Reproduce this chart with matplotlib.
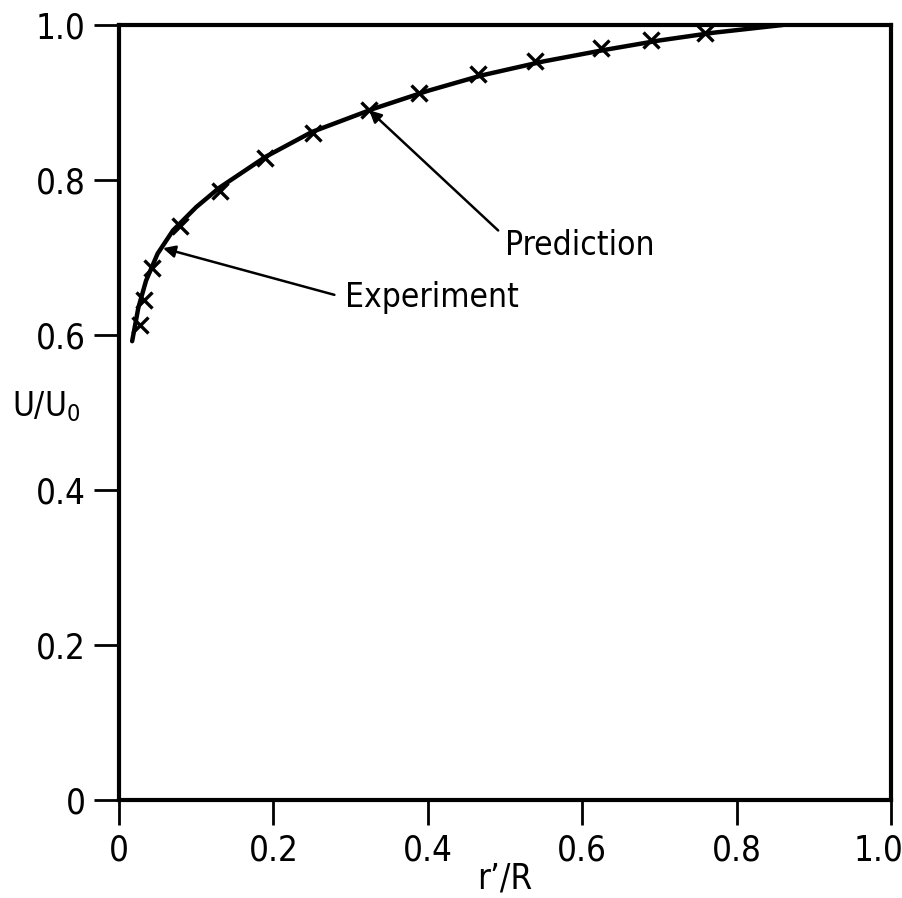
import numpy as np
import matplotlib.pyplot as plt
from matplotlib.transforms import ScaledTranslation

plt.rcParams['font.family'] = ['DejaVu Sans']
plt.rcParams['font.stretch'] = 'condensed'

# Measured velocity ratio (crosses)
r_exp = [0.027, 0.032, 0.043, 0.079, 0.131, 0.189, 0.251, 0.324,
         0.389, 0.465, 0.539, 0.624, 0.689, 0.759]
u_exp = [0.613, 0.645, 0.686, 0.741, 0.786, 0.828, 0.861, 0.890,
         0.912, 0.937, 0.954, 0.970, 0.981, 0.990]

# Predicted profile (solid line)
r_pred = [0.017, 0.025, 0.035, 0.050, 0.070, 0.100, 0.130, 0.190, 0.250,
          0.330, 0.400, 0.470, 0.550, 0.630, 0.700, 0.770, 0.860]
u_pred = [0.592, 0.635, 0.670, 0.705, 0.735, 0.765, 0.790, 0.830, 0.862,
          0.892, 0.915, 0.935, 0.953, 0.968, 0.980, 0.990, 1.000]

xticks = [0, 0.2, 0.4, 0.6, 0.8, 1.0]
xtick_labels = ['0', '0.2', '0.4', '0.6', '0.8', '1.0']
yticks = [0, 0.2, 0.4, 0.6, 0.8, 1.0]
ytick_labels = ['0', '0.2', '0.4', '0.6', '0.8', '1.0']

fig = plt.figure(figsize=(9.03, 8.98), dpi=100)
ax = fig.add_axes([0.1318, 0.1091, 0.8549, 0.8631])

ax.plot(r_pred, u_pred, color='black', linewidth=3.2, solid_capstyle='round')
ax.plot(r_exp, u_exp, linestyle='none', marker='x', color='black',
        markersize=11, markeredgewidth=2.4)

ax.set_xlim(0, 1.0)
ax.set_ylim(0, 1.0)
ax.set_xticks(xticks)
ax.set_xticklabels(xtick_labels)
ax.set_yticks(yticks)
ax.set_yticklabels(ytick_labels)

for s in ax.spines.values():
    s.set_linewidth(3)
ax.tick_params(direction='out', length=18, width=2, labelsize=25, pad=6)

# pull the last x label in so it stays inside the figure
last = ax.get_xticklabels()[-1]
last.set_transform(last.get_transform() + ScaledTranslation(-0.12, 0, fig.dpi_scale_trans))

ax.set_xlabel("r\u2019/R", fontsize=25, labelpad=-4)
ax.set_ylabel("U/U$_0$", fontsize=24, rotation=0, ha='left', va='center')
ax.yaxis.set_label_coords(-0.139, 0.508)

ax.annotate('Prediction', xy=(0.324, 0.890), xytext=(0.50, 0.716),
            fontsize=24, ha='left', va='center',
            arrowprops=dict(arrowstyle='-|>', color='black', lw=1.8,
                            mutation_scale=18, shrinkA=4, shrinkB=0,
                            relpos=(0, 0.75)))
ax.annotate('Experiment', xy=(0.057, 0.712), xytext=(0.293, 0.648),
            fontsize=24, ha='left', va='center',
            arrowprops=dict(arrowstyle='-|>', color='black', lw=1.8,
                            mutation_scale=18, shrinkA=6, shrinkB=0,
                            relpos=(0, 0.5)))

fig.savefig('out.png', dpi=100)
